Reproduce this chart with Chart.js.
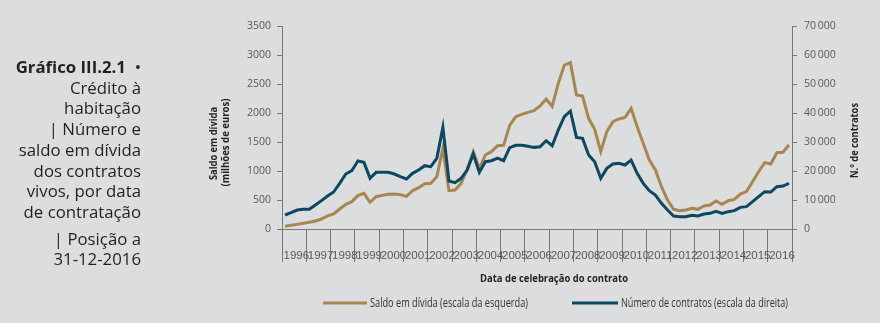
<!DOCTYPE html>
<html><head><meta charset="utf-8">
<script src="https://cdn.jsdelivr.net/npm/chart.js@4.4.1/dist/chart.umd.min.js"></script>
<style>
html,body{margin:0;padding:0;background:#dcdddf;}
#wrap{position:relative;width:880px;height:323px;overflow:hidden;}
#c{position:absolute;left:0;top:0;}
#title{position:absolute;left:0;top:57px;width:141px;text-align:right;font-family:"Open Sans",sans-serif;font-size:16.8px;line-height:20.7px;color:#231f20;}
#title .sub{margin-top:6px;}
</style></head>
<body>
<div id="wrap">
<canvas id="c" width="880" height="323"></canvas>
<div id="title"><div><b>Gráfico III.2.1</b>&nbsp;&nbsp;•<br>Crédito à<br>habitação<br>| Número e<br>saldo em dívida<br>dos contratos<br>vivos, por data<br>de contratação</div><div class="sub">| Posição a<br>31-12-2016</div></div>
</div>
<script>
const years = [1996,1997,1998,1999,2000,2001,2002,2003,2004,2005,2006,2007,2008,2009,2010,2011,2012,2013,2014,2015,2016];
const seriesNames = ['Saldo em dívida (escala da esquerda)','Número de contratos (escala da direita)'];
// Quarterly values, 1996 Q1 .. 2016 Q4
const saldo = [46,63,80,98, 115,138,172,224, 259,345,425,471, 575,615,460,557, 580,598,603,592, 563,661,713,782, 787,902,1391,661, 672,787,1029,1333, 1046,1276,1333,1437, 1442,1787,1937,1977, 2010,2040,2121,2241, 2115,2511,2827,2868, 2310,2293,1908,1718, 1333,1678,1850,1897, 1925,2080,1764,1477, 1190,1017,730,500, 339,316,328,356, 339,397,414,483, 425,488,511,603, 644,816,988,1144, 1121,1316,1322,1448];
const contratos = [4830,5630,6550,6780, 6780,8270,9770,11380, 12750,15740,18960,20110, 23440,22980,17470,19530, 19530,19530,18960,18040, 17240,19190,20340,21830, 21490,24360,35050,16550, 15970,17470,20340,25850, 19530,23210,23560,24470, 23560,28040,28840,28840, 28500,28150,28380,30450, 28730,34130,38720,40680, 31600,31250,25510,23210, 17470,20910,22410,22640, 22060,23780,19190,15740, 13210,11720,8850,6550, 4480,4250,4250,4710, 4480,5170,5400,6090, 5400,5980,6320,7470, 7700,9420,11150,12870, 12750,14590,14820,15740];
const leftTicks = [0,500,1000,1500,2000,2500,3000,3500];
const rightTicks = [0,10000,20000,30000,40000,50000,60000,70000];

const GOLD = '#a7864f', NAVY = '#0c4862', AXIS = '#77787b', TXT = '#58595b', DARK = '#231f20';
const qx = i => years[0] + (i + 0.5) / 4;

function fitText(ctx, text, cx, cy, w, font, color, rot) {
  ctx.save();
  ctx.font = font; ctx.fillStyle = color;
  ctx.textAlign = 'center'; ctx.textBaseline = 'middle';
  ctx.translate(cx, cy);
  if (rot) ctx.rotate(-Math.PI / 2);
  const m = ctx.measureText(text).width;
  ctx.scale(w / m, 1);
  ctx.fillText(text, 0, 0);
  ctx.restore();
}

const extras = {
  id: 'extras',
  afterDraw(chart) {
    const ctx = chart.ctx;
    const B = 'bold 10.5px "Open Sans", sans-serif';
    fitText(ctx, 'Saldo em dívida', 214.5, 143.5, 73, B, DARK, true);
    fitText(ctx, '(milhões de euros)', 226.5, 142.5, 88, B, DARK, true);
    fitText(ctx, 'N.º de contratos', 855, 140.5, 75, B, DARK, true);
    fitText(ctx, 'Data de celebração do contrato', 554, 279, 148, 'bold 11px "Open Sans", sans-serif', DARK, false);
    // legend
    ctx.save();
    ctx.lineWidth = 3;
    ctx.strokeStyle = GOLD; ctx.beginPath(); ctx.moveTo(323, 303); ctx.lineTo(367, 303); ctx.stroke();
    ctx.strokeStyle = NAVY; ctx.beginPath(); ctx.moveTo(572, 303); ctx.lineTo(618, 303); ctx.stroke();
    ctx.restore();
    const LF = '12.5px "Open Sans", sans-serif';
    fitText(ctx, seriesNames[0], 370 + 79, 303, 158, LF, '#333', false);
    fitText(ctx, seriesNames[1], 621 + 83.5, 303, 167, LF, '#333', false);
  }
};

new Chart(document.getElementById('c'), {
  type: 'line',
  data: {
    datasets: [
      { label: seriesNames[0], data: saldo.map((v, i) => ({ x: qx(i), y: v })), yAxisID: 'y', order: 2, borderColor: GOLD, borderWidth: 3, pointRadius: 0, tension: 0, fill: false },
      { label: seriesNames[1], data: contratos.map((v, i) => ({ x: qx(i), y: v })), yAxisID: 'y1', order: 1, borderColor: NAVY, borderWidth: 3, pointRadius: 0, tension: 0, fill: false }
    ]
  },
  options: {
    responsive: false, animation: false, devicePixelRatio: 1,
    layout: { padding: { top: 26, left: 0, right: 0, bottom: 0 } },
    plugins: { legend: { display: false }, tooltip: { enabled: false }, title: { display: false } },
    scales: {
      x: {
        type: 'linear', min: years[0], max: years[years.length - 1] + 1, position: 'bottom',
        grid: { display: true, drawOnChartArea: false, drawTicks: true, tickLength: 33, color: AXIS, lineWidth: 1 },
        border: { display: true, color: AXIS },
        ticks: { stepSize: 1, autoSkip: false, maxRotation: 0, minRotation: 0, align: 'start', labelOffset: 1.5, padding: -13.5,
          font: { family: '"Liberation Sans Narrow", "Arial Narrow", sans-serif', size: 11.5 }, color: TXT,
          callback: v => years.includes(v) ? String(v) : '' },
        afterFit: s => { s.height = 94; }
      },
      y: {
        type: 'linear', position: 'left', min: 0, max: 3500,
        grid: { drawOnChartArea: false, tickLength: 5, color: AXIS },
        border: { color: AXIS },
        ticks: { stepSize: 500, padding: 6, color: TXT, font: { family: '"Open Sans", sans-serif', size: 10.5 },
          callback: v => leftTicks.includes(v) ? String(v) : '' },
        afterFit: s => { s.width = 282; }
      },
      y1: {
        type: 'linear', position: 'right', min: 0, max: 70000,
        grid: { drawOnChartArea: false, tickLength: 5, color: AXIS },
        border: { color: AXIS },
        ticks: { stepSize: 10000, padding: 7, color: TXT, font: { family: '"Open Sans", sans-serif', size: 10.5 },
          callback: v => rightTicks.includes(v) ? (v === 0 ? '0' : (v / 1000) + '\u2009000') : '' },
        afterFit: s => { s.width = 88; }
      }
    }
  },
  plugins: [extras]
});
</script>
</body></html>
